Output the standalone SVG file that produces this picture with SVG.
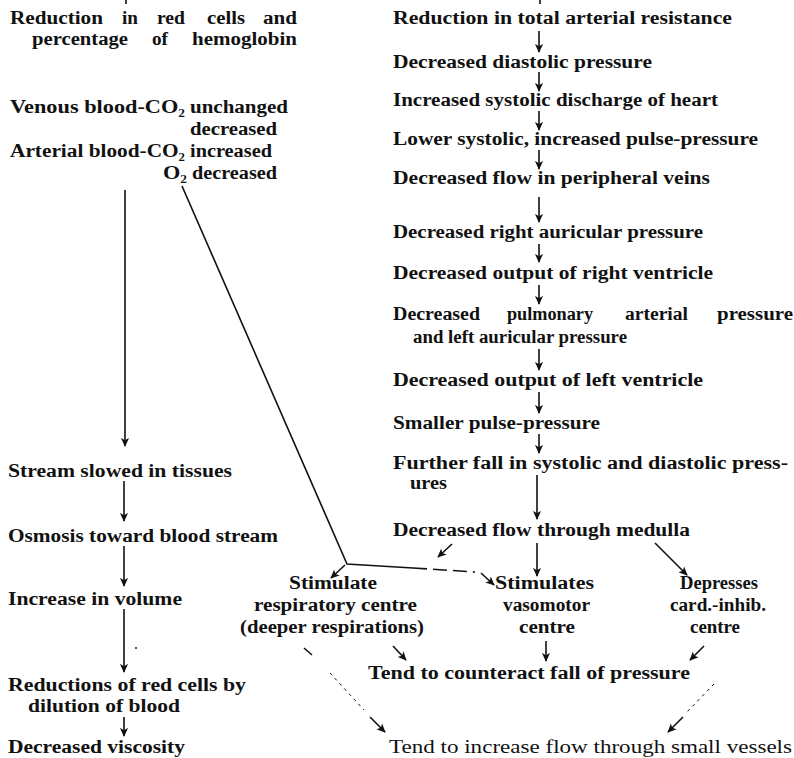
<svg xmlns="http://www.w3.org/2000/svg" width="794" height="758" viewBox="0 0 794 758">
<defs>
<marker id="ah" viewBox="0 0 10 10" refX="9" refY="5" markerWidth="9" markerHeight="9" markerUnits="userSpaceOnUse" orient="auto">
<path d="M0,0.5 L10,5 L0,9.5 L2.5,5 z" fill="#111"/>
</marker>
<style>
text{font-family:"Liberation Serif","Times New Roman",serif;font-weight:bold;font-size:18px;fill:#111}
.lt{font-weight:normal}
.c{stroke:#111;stroke-width:1.6;fill:none}
.a{marker-end:url(#ah)}
.d{stroke-dasharray:14 6}
.dt{stroke-width:1;stroke-dasharray:3 4}
</style>
</defs>
<rect width="794" height="758" fill="#fff"/>

<g id="left-start">
<text x="10" y="24" textLength="93" lengthAdjust="spacingAndGlyphs">Reduction</text>
<text x="122" y="24" textLength="16" lengthAdjust="spacingAndGlyphs">in</text>
<text x="157" y="24" textLength="28" lengthAdjust="spacingAndGlyphs">red</text>
<text x="207" y="24" textLength="38" lengthAdjust="spacingAndGlyphs">cells</text>
<text x="263" y="24" textLength="34" lengthAdjust="spacingAndGlyphs">and</text>
<text x="32" y="45" textLength="96" lengthAdjust="spacingAndGlyphs">percentage</text>
<text x="152" y="45" textLength="16" lengthAdjust="spacingAndGlyphs">of</text>
<text x="192" y="45" textLength="105" lengthAdjust="spacingAndGlyphs">hemoglobin</text>
</g>
<g id="left-gases">
<text x="10" y="113" textLength="175" lengthAdjust="spacingAndGlyphs">Venous blood-CO₂</text>
<text x="190" y="113" textLength="98" lengthAdjust="spacingAndGlyphs">unchanged</text>
<text x="190" y="135" textLength="87" lengthAdjust="spacingAndGlyphs">decreased</text>
<text x="10" y="157" textLength="175" lengthAdjust="spacingAndGlyphs">Arterial blood-CO₂</text>
<text x="190" y="157" textLength="82" lengthAdjust="spacingAndGlyphs">increased</text>
<text x="163" y="179" textLength="24" lengthAdjust="spacingAndGlyphs">O₂</text>
<text x="192" y="179" textLength="85" lengthAdjust="spacingAndGlyphs">decreased</text>
</g>
<g id="left-stream"><text x="8" y="477" textLength="224" lengthAdjust="spacingAndGlyphs">Stream slowed in tissues</text></g>
<g id="left-osmosis"><text x="8" y="542" textLength="270" lengthAdjust="spacingAndGlyphs">Osmosis toward blood stream</text></g>
<g id="left-volume"><text x="8" y="605" textLength="174" lengthAdjust="spacingAndGlyphs">Increase in volume</text></g>
<g id="left-dilution">
<text x="8" y="691" textLength="238" lengthAdjust="spacingAndGlyphs">Reductions of red cells by</text>
<text x="28" y="712" textLength="152" lengthAdjust="spacingAndGlyphs">dilution of blood</text>
</g>
<g id="left-viscosity"><text x="8" y="753" textLength="177" lengthAdjust="spacingAndGlyphs">Decreased viscosity</text></g>

<g id="r1"><text x="393" y="24" textLength="339" lengthAdjust="spacingAndGlyphs">Reduction in total arterial resistance</text></g>
<g id="r2"><text x="393" y="68" textLength="259" lengthAdjust="spacingAndGlyphs">Decreased diastolic pressure</text></g>
<g id="r3"><text x="393" y="106" textLength="325" lengthAdjust="spacingAndGlyphs">Increased systolic discharge of heart</text></g>
<g id="r4"><text x="393" y="145" textLength="365" lengthAdjust="spacingAndGlyphs">Lower systolic, increased pulse-pressure</text></g>
<g id="r5"><text x="393" y="184" textLength="317" lengthAdjust="spacingAndGlyphs">Decreased flow in peripheral veins</text></g>
<g id="r6"><text x="393" y="238" textLength="310" lengthAdjust="spacingAndGlyphs">Decreased right auricular pressure</text></g>
<g id="r7"><text x="393" y="279" textLength="320" lengthAdjust="spacingAndGlyphs">Decreased output of right ventricle</text></g>
<g id="r8">
<text x="393" y="320" textLength="87" lengthAdjust="spacingAndGlyphs">Decreased</text>
<text x="507" y="320" textLength="86" lengthAdjust="spacingAndGlyphs">pulmonary</text>
<text x="625" y="320" textLength="63" lengthAdjust="spacingAndGlyphs">arterial</text>
<text x="717" y="320" textLength="76" lengthAdjust="spacingAndGlyphs">pressure</text>
<text x="413" y="343" textLength="214" lengthAdjust="spacingAndGlyphs">and left auricular pressure</text>
</g>
<g id="r9"><text x="393" y="386" textLength="310" lengthAdjust="spacingAndGlyphs">Decreased output of left ventricle</text></g>
<g id="r10"><text x="393" y="429" textLength="207" lengthAdjust="spacingAndGlyphs">Smaller pulse-pressure</text></g>
<g id="r11">
<text x="393" y="469" textLength="395" lengthAdjust="spacingAndGlyphs">Further fall in systolic and diastolic press-</text>
<text x="410" y="489" textLength="37" lengthAdjust="spacingAndGlyphs">ures</text>
</g>
<g id="r12"><text x="393" y="536" textLength="297" lengthAdjust="spacingAndGlyphs">Decreased flow through medulla</text></g>

<g id="resp">
<text x="289" y="589" textLength="88" lengthAdjust="spacingAndGlyphs">Stimulate</text>
<text x="254" y="611" textLength="163" lengthAdjust="spacingAndGlyphs">respiratory centre</text>
<text x="240" y="633" textLength="184" lengthAdjust="spacingAndGlyphs">(deeper respirations)</text>
</g>
<g id="vaso">
<text x="495" y="589" textLength="99" lengthAdjust="spacingAndGlyphs">Stimulates</text>
<text x="503" y="611" textLength="87" lengthAdjust="spacingAndGlyphs">vasomotor</text>
<text x="519" y="633" textLength="56" lengthAdjust="spacingAndGlyphs">centre</text>
</g>
<g id="card">
<text x="680" y="589" textLength="78" lengthAdjust="spacingAndGlyphs">Depresses</text>
<text x="670" y="611" textLength="96" lengthAdjust="spacingAndGlyphs">card.-inhib.</text>
<text x="690" y="633" textLength="50" lengthAdjust="spacingAndGlyphs">centre</text>
</g>
<g id="counteract"><text x="368" y="679" textLength="322" lengthAdjust="spacingAndGlyphs">Tend to counteract fall of pressure</text></g>
<g id="increase"><text class="lt" x="389" y="753" textLength="403" lengthAdjust="spacingAndGlyphs">Tend to increase flow through small vessels</text></g>

<g id="connectors">
<line class="c" x1="126" y1="0" x2="126" y2="4"/>
<line class="c" x1="540" y1="0" x2="540" y2="4"/>
<line class="c a" x1="125" y1="190" x2="125" y2="446"/>
<line class="c a" x1="124" y1="481" x2="124" y2="521"/>
<line class="c a" x1="124" y1="546" x2="124" y2="586"/>
<line class="c a" x1="124" y1="609" x2="124" y2="672"/>
<circle cx="136" cy="648" r="1" fill="#111"/>
<line class="c a" x1="124" y1="717" x2="124" y2="736"/>

<line class="c a" x1="539" y1="31" x2="539" y2="52"/>
<line class="c a" x1="539" y1="72" x2="539" y2="91"/>
<line class="c a" x1="539" y1="111" x2="539" y2="130"/>
<line class="c a" x1="539" y1="150" x2="539" y2="169"/>
<line class="c a" x1="539" y1="197" x2="539" y2="222"/>
<line class="c a" x1="539" y1="244" x2="539" y2="262"/>
<line class="c a" x1="539" y1="285" x2="539" y2="304"/>
<line class="c a" x1="539" y1="349" x2="539" y2="370"/>
<line class="c a" x1="539" y1="392" x2="539" y2="413"/>
<line class="c a" x1="539" y1="434" x2="539" y2="453"/>
<line class="c a" x1="537" y1="475" x2="537" y2="519"/>

<line class="c a" x1="452" y1="544" x2="438" y2="557"/>
<line class="c a" x1="537" y1="543" x2="537" y2="576"/>
<line class="c a" x1="655" y1="543" x2="687" y2="575"/>

<polyline class="c" points="182,186 347,564 413,568"/>
<line class="c d" x1="413" y1="568" x2="475" y2="572"/>
<line class="c a" x1="481" y1="573" x2="494" y2="585"/>
<line class="c a" x1="345" y1="565" x2="331" y2="578"/>

<line class="c a" x1="393" y1="646" x2="406" y2="660"/>
<line class="c a" x1="546" y1="641" x2="546" y2="661"/>
<line class="c a" x1="704" y1="646" x2="690" y2="660"/>

<line class="c" x1="304" y1="648" x2="312" y2="655"/>
<line class="c dt" x1="330" y1="673" x2="364" y2="710"/>
<line class="c a" x1="370" y1="717" x2="385" y2="732"/>
<line class="c dt" x1="714" y1="684" x2="686" y2="713"/>
<line class="c a" x1="683" y1="717" x2="668" y2="732"/>
</g>
</svg>
